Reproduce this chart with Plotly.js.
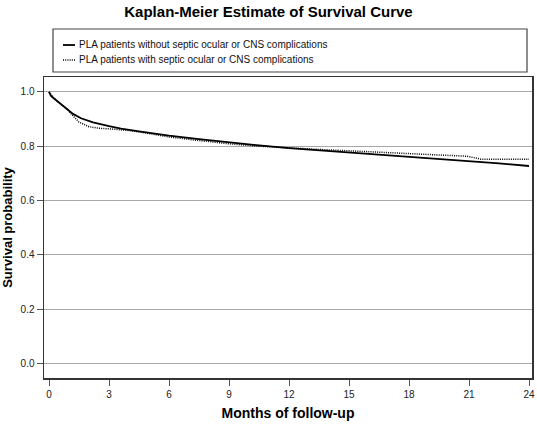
<!DOCTYPE html>
<html>
<head>
<meta charset="utf-8">
<script src="https://cdn.plot.ly/plotly-3.0.1.min.js"></script>
<style>
  html, body { margin: 0; padding: 0; background: #ffffff; }
  #chart { width: 537px; height: 424px; }
</style>
</head>
<body>
<div id="chart"></div>
<script>
// ---- Data ----
var seriesNames = [
  "PLA patients without septic ocular or CNS complications",
  "PLA patients with septic ocular or CNS complications"
];
var monthsWithout = [0, 0.1, 0.3, 0.6, 0.9, 1.2, 1.6, 2.2, 3, 3.6, 4.5, 6, 7.5, 9, 10.5, 12, 13.5, 15, 16.5, 18, 19.5, 21, 22.5, 24];
var survWithout   = [1.0, 0.985, 0.973, 0.955, 0.936, 0.919, 0.903, 0.888, 0.874, 0.865, 0.855, 0.839, 0.826, 0.814, 0.803, 0.793, 0.785, 0.777, 0.770, 0.762, 0.754, 0.746, 0.737, 0.727];
var monthsWith = [0, 0.2, 0.5, 0.9, 1.2, 1.5, 2.0, 2.5, 3, 4, 5, 6, 7.5, 9, 10.5, 12, 13.5, 15, 16.5, 18, 19.5, 20.9, 21.3, 21.6, 24];
var survWith   = [1.0, 0.98, 0.96, 0.937, 0.912, 0.889, 0.872, 0.866, 0.864, 0.858, 0.847, 0.834, 0.821, 0.809, 0.800, 0.793, 0.788, 0.783, 0.778, 0.773, 0.768, 0.763, 0.757, 0.752, 0.752];
var xTicks = [0, 3, 6, 9, 12, 15, 18, 21, 24];
var yTicks = [0.0, 0.2, 0.4, 0.6, 0.8, 1.0];
var yTickText = ["0.0", "0.2", "0.4", "0.6", "0.8", "1.0"];

// ---- Layout geometry ----
var W = 537, H = 424;
var M = {l: 44, r: 5, t: 77, b: 46};
var plotW = W - M.l - M.r, plotH = H - M.t - M.b;
function px2x(px) { return (px - M.l) / plotW; }
function py2y(py) { return (H - M.b - py) / plotH; }

var FONT = "Arial, 'Liberation Sans', Helvetica, sans-serif";
var lineStyles = [{dash: "solid", width: 1.8}, {dash: "1px,1.2px", width: 1.5}];

var traces = [
  {x: monthsWithout, y: survWithout, name: seriesNames[0], type: "scatter", mode: "lines",
   line: {color: "#000000", width: lineStyles[0].width, dash: lineStyles[0].dash}, showlegend: false},
  {x: monthsWith, y: survWith, name: seriesNames[1], type: "scatter", mode: "lines",
   line: {color: "#000000", width: lineStyles[1].width, dash: lineStyles[1].dash}, showlegend: false}
];

// manual legend (box + samples + labels)
var legendRows = [45, 60];
var shapes = [
  {type: "rect", xref: "paper", yref: "paper",
   x0: px2x(53), x1: px2x(527), y0: py2y(72), y1: py2y(29),
   line: {color: "#444444", width: 1.2}, fillcolor: "rgba(0,0,0,0)"}
];
var annotations = [];
for (var i = 0; i < seriesNames.length; i++) {
  shapes.push({type: "line", xref: "paper", yref: "paper",
    x0: px2x(63), x1: px2x(75), y0: py2y(legendRows[i]), y1: py2y(legendRows[i]),
    line: {color: "#000000", width: lineStyles[i].width, dash: lineStyles[i].dash}});
  annotations.push({xref: "paper", yref: "paper", x: px2x(77), y: py2y(legendRows[i]),
    xanchor: "left", yanchor: "middle", showarrow: false, text: seriesNames[i],
    font: {family: FONT, size: 10, color: "#111111"}});
}

var layout = {
  width: W, height: H,
  margin: M,
  paper_bgcolor: "#ffffff", plot_bgcolor: "#ffffff",
  font: {family: FONT, size: 10, color: "#222222"},
  title: {text: "<b>Kaplan-Meier Estimate of Survival Curve</b>",
          font: {family: FONT, size: 15, color: "#000000"},
          xref: "container", x: 0.5, xanchor: "center",
          yref: "container", y: 1 - 12 / H, yanchor: "middle"},
  xaxis: {
    range: [-0.25, 24.15], tickvals: xTicks, ticktext: xTicks.map(String),
    ticks: "outside", ticklen: 6, tickcolor: "#555555", tickwidth: 1,
    showgrid: false, zeroline: false,
    showline: true, linecolor: "#333333", linewidth: 1.5, mirror: true,
    tickfont: {family: FONT, size: 10, color: "#222222"},
    title: {text: "<b>Months of follow-up</b>", font: {family: FONT, size: 14, color: "#000000"}, standoff: 9}
  },
  yaxis: {
    range: [-0.054, 1.055], tickvals: yTicks, ticktext: yTickText,
    ticks: "outside", ticklen: 6, tickcolor: "#555555", tickwidth: 1,
    showgrid: true, gridcolor: "#a8a8a8", gridwidth: 1, zeroline: false,
    showline: true, linecolor: "#333333", linewidth: 1.5, mirror: true,
    tickfont: {family: FONT, size: 10, color: "#222222"},
    title: {text: "<b>Survival probability</b>", font: {family: FONT, size: 13, color: "#000000"}, standoff: 6}
  },
  shapes: shapes,
  annotations: annotations,
  showlegend: false
};

Plotly.newPlot("chart", traces, layout, {displayModeBar: false, staticPlot: true});
</script>
</body>
</html>
